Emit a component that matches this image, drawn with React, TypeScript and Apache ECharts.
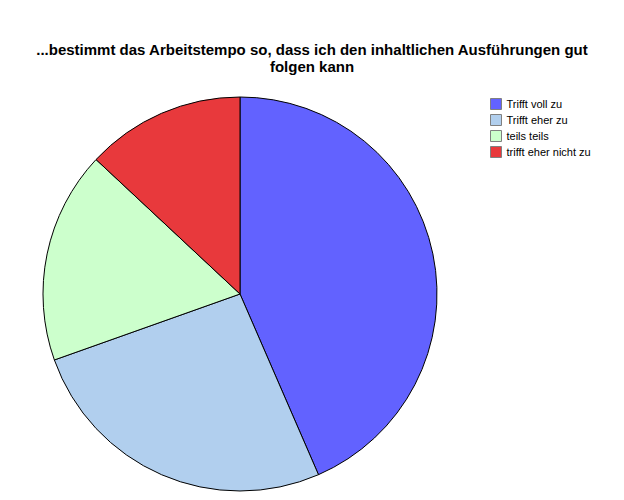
import React, { useEffect, useRef } from "react";
import * as echarts from "echarts";

const categories = ["Trifft voll zu", "Trifft eher zu", "teils teils", "trifft eher nicht zu"];
const values = [10, 6, 4, 3];
const colors = ["#6262ff", "#b1cfee", "#ccffcc", "#e8393c"];
const titleText = "...bestimmt das Arbeitstempo so, dass ich den inhaltlichen Ausführungen gut\nfolgen kann";

export default function App() {
  const ref = useRef<HTMLDivElement>(null);
  useEffect(() => {
    document.body.style.margin = "0";
    const chart = echarts.init(ref.current!, null, { renderer: "svg" });
    chart.setOption({
      animation: false,
      backgroundColor: "#ffffff",
      title: {
        text: titleText,
        left: "center",
        top: 41,
        padding: 0,
        textStyle: {
          fontFamily: "Liberation Sans, Arial, sans-serif",
          fontSize: 15,
          fontWeight: "bold",
          color: "#000",
          lineHeight: 17,
        },
      },
      legend: {
        orient: "vertical",
        left: 490,
        top: 98,
        padding: 0,
        itemWidth: 11,
        itemHeight: 11,
        itemGap: 4,
        icon: "rect",
        itemStyle: { borderColor: "#808080", borderWidth: 1 },
        textStyle: {
          fontFamily: "Liberation Sans, Arial, sans-serif",
          fontSize: 11,
          color: "#000",
        },
        data: categories,
      },
      series: [
        {
          type: "pie",
          center: [240, 294],
          radius: 197,
          startAngle: 90,
          clockwise: true,
          label: { show: false },
          labelLine: { show: false },
          emphasis: { disabled: true },
          itemStyle: { borderColor: "#000", borderWidth: 1 },
          data: categories.map((name, i) => ({
            name,
            value: values[i],
            itemStyle: { color: colors[i] },
          })),
        },
      ],
    });
    return () => chart.dispose();
  }, []);
  return <div ref={ref} style={{ width: 624, height: 500 }} />;
}
